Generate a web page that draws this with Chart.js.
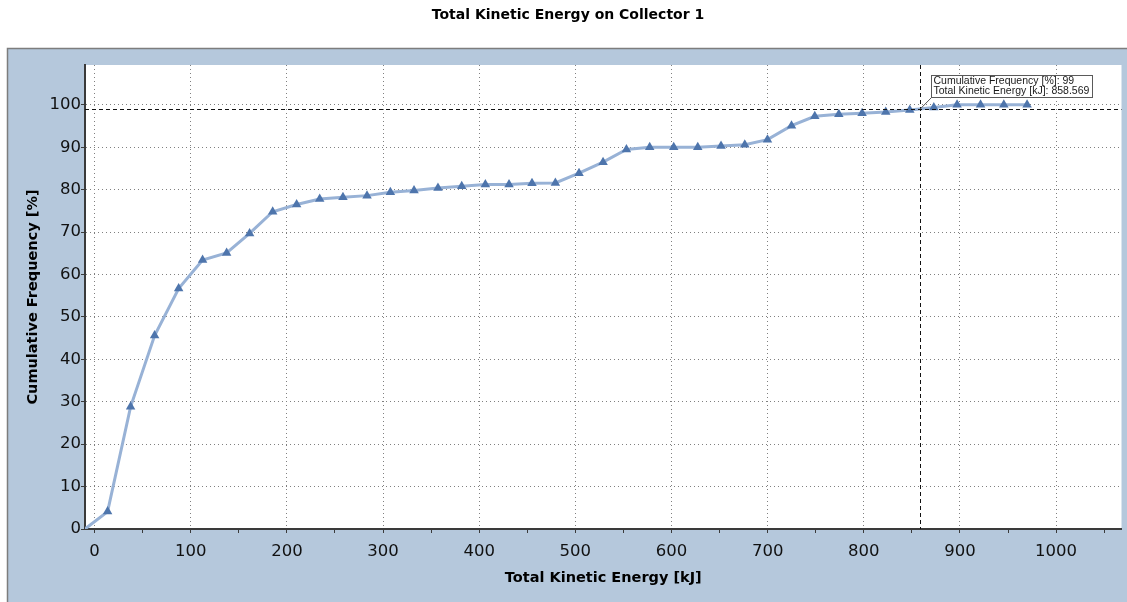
<!DOCTYPE html>
<html>
<head>
<meta charset="utf-8">
<title>Total Kinetic Energy on Collector 1</title>
<script src="https://cdn.jsdelivr.net/npm/chart.js@4.4.1/dist/chart.umd.min.js"></script>
<style>
    html, body { margin: 0; padding: 0; background: #ffffff; }
    #wrap { width: 1127px; height: 602px; }
</style>
</head>
<body>
<div id="wrap"><canvas id="chart" width="1127" height="602"></canvas></div>
<script>
// Cumulative frequency curve, one point per energy bin
const energyKJ = [
    -10, 13.5, 37.4, 62.4, 87.4, 112.3, 137.3, 161.2, 185.2, 210.1,
    234.1, 258.3, 283.3, 307.6, 332.2, 357.1, 381.8, 406.4, 431.0, 454.9,
    479.2, 503.8, 528.8, 553.1, 577.3, 602.3, 627.3, 651.5, 676.2, 699.8,
    724.8, 749.0, 774.0, 798.2, 822.8, 847.8, 872.8, 897.0, 921.4, 945.6,
    969.8,
];
const cumulativeFreq = [
    0, 4.1, 28.8, 45.6, 56.7, 63.4, 65.1, 69.7, 74.8, 76.5,
    77.8, 78.2, 78.6, 79.4, 79.8, 80.4, 80.8, 81.2, 81.2, 81.5,
    81.6, 83.9, 86.5, 89.5, 90.0, 90.0, 90.0, 90.3, 90.6, 91.8,
    95.1, 97.3, 97.8, 98.0, 98.3, 98.8, 99.4, 100, 100, 100,
    100,
];

// Crosshair readout
const cursorEnergy = 858.569;
const cursorFreq = 99;

const X_MIN = -10;
const X_MAX = 1068;
const Y_MIN = 0;
const Y_MAX = 109.4;

const PANEL_COLOR = '#b5c8dc';
const LINE_COLOR = '#98b2d6';
const MARKER_COLOR = '#4e75ac';
const AXIS_COLOR = '#3a3a3a';
const GRID_COLOR = '#808080';

const points = energyKJ.map((x, i) => ({ x, y: cumulativeFreq[i] }));

const panelBackground = {
    id: 'panelBackground',
    beforeDraw(chart) {
        const { ctx, chartArea } = chart;
        ctx.save();
        ctx.fillStyle = '#ffffff';
        ctx.fillRect(0, 0, chart.width, chart.height);
        ctx.fillStyle = PANEL_COLOR;
        ctx.fillRect(7, 48, chart.width - 7, chart.height - 48);
        ctx.strokeStyle = '#7d7d7d';
        ctx.lineWidth = 1.5;
        ctx.beginPath();
        ctx.moveTo(7.5, chart.height);
        ctx.lineTo(7.5, 48.5);
        ctx.lineTo(chart.width, 48.5);
        ctx.stroke();
        ctx.fillStyle = '#ffffff';
        ctx.fillRect(chartArea.left, chartArea.top, chartArea.right - chartArea.left, chartArea.bottom - chartArea.top);
        ctx.restore();
    },
};

const crosshair = {
    id: 'crosshair',
    afterDatasetsDraw(chart) {
        const { ctx, chartArea, scales } = chart;
        const px = scales.x.getPixelForValue(cursorEnergy);
        const py = scales.y.getPixelForValue(cursorFreq);
        ctx.save();
        ctx.strokeStyle = '#111111';
        ctx.lineWidth = 1;
        ctx.setLineDash([4, 3]);
        ctx.beginPath();
        ctx.moveTo(chartArea.left, Math.round(py) + 0.5);
        ctx.lineTo(chartArea.right, Math.round(py) + 0.5);
        ctx.moveTo(Math.round(px) + 0.5, chartArea.top);
        ctx.lineTo(Math.round(px) + 0.5, chartArea.bottom);
        ctx.stroke();

        // readout box, up and to the right of the cursor
        const lines = [
            'Cumulative Frequency [%]: ' + cursorFreq,
            'Total Kinetic Energy [kJ]: ' + cursorEnergy,
        ];
        ctx.font = '10.5px "Liberation Sans", Arial, sans-serif';
        const textW = Math.max(...lines.map(s => ctx.measureText(s).width));
        const bx = Math.round(px) + 11.5;
        const by = Math.round(py) - 33.5;
        const bw = Math.round(textW) + 5;
        const bh = 22;

        ctx.setLineDash([]);
        ctx.strokeStyle = '#555555';
        ctx.beginPath();
        ctx.moveTo(px, py);
        ctx.lineTo(bx, by + bh);
        ctx.stroke();

        ctx.fillStyle = '#ffffff';
        ctx.fillRect(bx, by, bw, bh);
        ctx.strokeStyle = '#5a5a5a';
        ctx.strokeRect(bx, by, bw, bh);

        ctx.fillStyle = '#1a1a1a';
        ctx.textBaseline = 'middle';
        ctx.textAlign = 'left';
        ctx.fillText(lines[0], bx + 2, by + 6);
        ctx.fillText(lines[1], bx + 2, by + 16);
        ctx.restore();
    },
};

const tickFont = { family: '"DejaVu Sans", Verdana, sans-serif', size: 16.5 };
const titleFont = { family: '"DejaVu Sans", Verdana, sans-serif', size: 14.5, weight: 'bold' };

new Chart(document.getElementById('chart'), {
    type: 'scatter',
    data: {
        datasets: [{
            data: points,
            showLine: true,
            borderColor: LINE_COLOR,
            borderWidth: 3,
            tension: 0,
            pointStyle: 'triangle',
            pointRadius: points.map((p, i) => (i === 0 ? 0 : 5.5)),
            pointBackgroundColor: MARKER_COLOR,
            pointBorderColor: MARKER_COLOR,
            pointBorderWidth: 0,
        }],
    },
    options: {
        responsive: false,
        animation: false,
        events: [],
        layout: {
            padding: { left: 14, right: 5, top: 0, bottom: 0 },
        },
        plugins: {
            legend: { display: false },
            tooltip: { enabled: false },
            title: {
                display: true,
                text: 'Total Kinetic Energy on Collector 1',
                color: '#000000',
                font: { family: '"DejaVu Sans", Verdana, sans-serif', size: 14, weight: 'bold' },
                padding: { top: 6.6, bottom: 41.6 },
            },
        },
        scales: {
            x: {
                type: 'linear',
                min: X_MIN,
                max: X_MAX,
                afterFit: (scale) => { scale.height = 73; },
                border: { display: true, color: AXIS_COLOR, width: 2, dash: [1, 3] },
                grid: {
                    color: (ctx) => (ctx.tick && ctx.tick.value % 100 === 0 ? GRID_COLOR : 'rgba(0,0,0,0)'),
                    lineWidth: 1,
                    tickLength: 4,
                    tickColor: AXIS_COLOR,
                    tickBorderDash: [],
                },
                ticks: {
                    stepSize: 50,
                    includeBounds: false,
                    autoSkip: false,
                    maxRotation: 0,
                    padding: 9,
                    color: '#111111',
                    font: tickFont,
                    callback: (v) => (v % 100 === 0 ? v : ''),
                },
                title: {
                    display: true,
                    text: 'Total Kinetic Energy [kJ]',
                    color: '#000000',
                    font: titleFont,
                    padding: { top: 0, bottom: 15.3 },
                },
            },
            y: {
                type: 'linear',
                min: Y_MIN,
                max: Y_MAX,
                afterFit: (scale) => { scale.width = 71; },
                border: { display: true, color: AXIS_COLOR, width: 2, dash: [1, 3] },
                grid: {
                    color: (ctx) => (ctx.tick && ctx.tick.value % 10 === 0 ? GRID_COLOR : 'rgba(0,0,0,0)'),
                    lineWidth: 1,
                    tickLength: 4,
                    tickColor: AXIS_COLOR,
                    tickBorderDash: [],
                },
                ticks: {
                    stepSize: 5,
                    includeBounds: false,
                    padding: 0,
                    color: '#111111',
                    font: tickFont,
                    callback: (v) => (v % 10 === 0 ? v : ''),
                },
                title: {
                    display: true,
                    text: 'Cumulative Frequency [%]',
                    color: '#000000',
                    font: titleFont,
                    padding: { top: 10.3, bottom: 0 },
                },
            },
        },
    },
    plugins: [panelBackground, crosshair],
});
</script>
</body>
</html>
